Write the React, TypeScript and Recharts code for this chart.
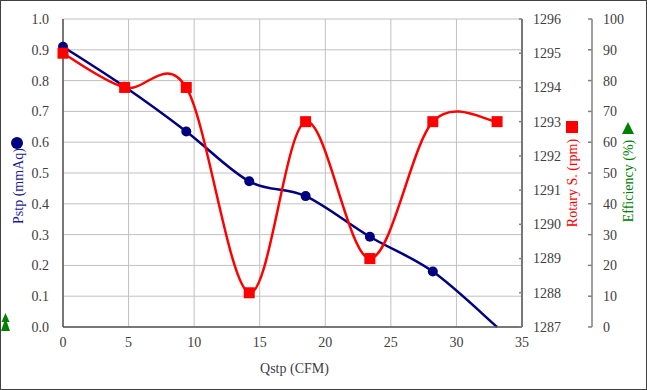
import React from "react";
import { LineChart, Line, XAxis, YAxis, CartesianGrid, Label } from "recharts";

const qstp = [0, 4.7, 9.4, 14.2, 18.5, 23.4, 28.2, 33.1];
const pstp = [0.91, 0.78, 0.635, 0.473, 0.425, 0.293, 0.18, 0.0];
const rpm = [1295, 1294, 1294, 1288, 1293, 1289, 1293, 1293];

const xTicks = [0, 5, 10, 15, 20, 25, 30, 35];
const pTicks = [0, 0.1, 0.2, 0.3, 0.4, 0.5, 0.6, 0.7, 0.8, 0.9, 1.0];
const rpmTicks = [1287, 1288, 1289, 1290, 1291, 1292, 1293, 1294, 1295, 1296];
const effTicks = [0, 10, 20, 30, 40, 50, 60, 70, 80, 90, 100];

const data = qstp.map((q, i) => ({ q, p: pstp[i], r: rpm[i] }));

const FONT = "Liberation Serif";
const TICK_COLOR = "#404040";
const NAVY = "#000080";
const RED = "#FF0000";
const GREEN = "#008000";

// Excel-like smoothing (uniform Catmull-Rom as cubic Bezier)
function excelSmooth(context: any) {
  let pts: number[][] = [];
  return {
    areaStart() {},
    areaEnd() {},
    lineStart() {
      pts = [];
    },
    lineEnd() {
      const n = pts.length;
      if (!n) return;
      context.moveTo(pts[0][0], pts[0][1]);
      for (let i = 0; i < n - 1; i++) {
        const p0 = pts[i - 1] || pts[i];
        const p1 = pts[i];
        const p2 = pts[i + 1];
        const p3 = pts[i + 2] || p2;
        context.bezierCurveTo(
          p1[0] + (p2[0] - p0[0]) / 6,
          p1[1] + (p2[1] - p0[1]) / 6,
          p2[0] - (p3[0] - p1[0]) / 6,
          p2[1] - (p3[1] - p1[1]) / 6,
          p2[0],
          p2[1]
        );
      }
    },
    point(x: number, y: number) {
      pts.push([+x, +y]);
    },
  };
}

const BlueDot = (props: any) => {
  const { cx, cy, index } = props;
  if (index === data.length - 1 || cx == null || cy == null) return <g key={`bd-${index}`} />;
  return <circle key={`bd-${index}`} cx={cx} cy={cy} r={5} fill={NAVY} stroke="none" />;
};

const RedDot = (props: any) => {
  const { cx, cy, index } = props;
  if (cx == null || cy == null) return <g key={`rd-${index}`} />;
  return <rect key={`rd-${index}`} x={cx - 5.5} y={cy - 5.5} width={11} height={11} fill={RED} stroke="none" />;
};

const txtStyle: React.CSSProperties = { fontFamily: FONT, fontSize: 14 };

const RightTick = (props: any) => {
  const { x, y, payload, inward } = props;
  return (
    <g>
      <line x1={x - 11 - inward} y1={y} x2={x - 11} y2={y} stroke="#808080" strokeWidth={1.5} />
      <text x={x} y={y} dy="0.35em" textAnchor="start" fill={TICK_COLOR} style={txtStyle}>
        {payload.value}
      </text>
    </g>
  );
};

const LeftTick = (props: any) => {
  const { x, y, payload } = props;
  return (
    <text x={x} y={y} dy="0.35em" textAnchor="end" fill={TICK_COLOR} style={txtStyle}>
      {Number(payload.value).toFixed(1)}
    </text>
  );
};

const BottomTick = (props: any) => {
  const { x, y, payload } = props;
  return (
    <text x={x} y={y} dy="0.85em" textAnchor="middle" fill={TICK_COLOR} style={txtStyle}>
      {payload.value}
    </text>
  );
};

const LeftTitle = (props: any) => {
  const vb = props.viewBox || { x: 0, y: 19, width: 63, height: 308 };
  const cy = vb.y + vb.height / 2 + 13;
  const bottom = vb.y + vb.height;
  return (
    <g>
      <circle cx={vb.x + 17} cy={cy - 43} r={6} fill={NAVY} />
      <text
        x={vb.x + 18}
        y={cy}
        transform={`rotate(-90 ${vb.x + 18} ${cy})`}
        textAnchor="middle"
        dominantBaseline="central"
        fill="#1a1a96"
        style={txtStyle}
      >
        Pstp (mmAq)
      </text>
      <polygon points={`${vb.x + 5.5},${bottom - 14} ${vb.x + 1.5},${bottom - 5} ${vb.x + 9.5},${bottom - 5}`} fill={GREEN} />
      <polygon points={`${vb.x + 5.5},${bottom - 9} ${vb.x + 1},${bottom + 4} ${vb.x + 10},${bottom + 4}`} fill={GREEN} />
    </g>
  );
};

const RpmTitle = (props: any) => {
  const vb = props.viewBox || { x: 522, y: 19, width: 70, height: 308 };
  const x = vb.x + 50;
  const cy = vb.y + vb.height / 2 + 10;
  return (
    <g>
      <rect x={x - 6} y={cy - 62} width={12} height={12} fill={RED} />
      <text
        x={x}
        y={cy}
        transform={`rotate(-90 ${x} ${cy})`}
        textAnchor="middle"
        dominantBaseline="central"
        fill={RED}
        style={txtStyle}
      >
        Rotary S. (rpm)
      </text>
    </g>
  );
};

const EffTitle = (props: any) => {
  const vb = props.viewBox || { x: 592, y: 19, width: 55, height: 308 };
  const x = vb.x + 36;
  const cy = vb.y + vb.height / 2 + 8;
  return (
    <g>
      <polygon points={`${x},${cy - 59} ${x - 6},${cy - 47} ${x + 6},${cy - 47}`} fill={GREEN} />
      <text
        x={x}
        y={cy}
        transform={`rotate(-90 ${x} ${cy})`}
        textAnchor="middle"
        dominantBaseline="central"
        fill={GREEN}
        style={txtStyle}
      >
        Efficiency (%)
      </text>
    </g>
  );
};

const XTitle = (props: any) => {
  const vb = props.viewBox || { x: 63, y: 327, width: 459, height: 63 };
  return (
    <text
      x={vb.x + vb.width / 2 + 2}
      y={vb.y + 41}
      textAnchor="middle"
      dominantBaseline="central"
      fill={TICK_COLOR}
      style={txtStyle}
    >
      Qstp (CFM)
    </text>
  );
};

export default function App() {
  return (
    <div style={{ position: "absolute", left: 0, top: 0, width: 647, height: 390, background: "#fff" }}>
      <LineChart width={647} height={390} data={data} margin={{ top: 19, right: 0, bottom: 0, left: 0 }}>
        <CartesianGrid yAxisId="p" stroke="#c0c0c0" strokeWidth={1} />
        <XAxis
          dataKey="q"
          type="number"
          domain={[0, 35]}
          ticks={xTicks}
          height={63}
          tickSize={0}
          tickMargin={8}
          axisLine={{ stroke: "#555", strokeWidth: 1.5 }}
          tick={<BottomTick />}
          interval={0}
        >
          <Label content={XTitle} />
        </XAxis>
        <YAxis
          yAxisId="p"
          orientation="left"
          domain={[0, 1]}
          ticks={pTicks}
          width={63}
          tickSize={0}
          tickMargin={14}
          interval={0}
          axisLine={{ stroke: "#555", strokeWidth: 1.5 }}
          tick={<LeftTick />}
        >
          <Label content={LeftTitle} />
        </YAxis>
        <YAxis
          yAxisId="r2"
          orientation="right"
          type="number"
          domain={[0, 100]}
          allowDataOverflow={true}
          ticks={effTicks}
          width={55}
          tickSize={0}
          tickMargin={11}
          interval={0}
          axisLine={{ stroke: "#808080", strokeWidth: 1.5 }}
          tickLine={false}
          tick={<RightTick inward={4} />}
        >
          <Label content={EffTitle} />
        </YAxis>
        <YAxis
          yAxisId="r1"
          orientation="right"
          type="number"
          domain={[1287, 1296]}
          allowDataOverflow={true}
          ticks={rpmTicks}
          width={70}
          tickSize={0}
          tickMargin={11}
          interval={0}
          axisLine={{ stroke: "#555", strokeWidth: 1.5 }}
          tickLine={false}
          tick={<RightTick inward={3} />}
        >
          <Label content={RpmTitle} />
        </YAxis>
        <Line
          yAxisId="r2"
          dataKey="eff"
          stroke="none"
          dot={false}
          activeDot={false}
          legendType="none"
          isAnimationActive={false}
        />
        <Line
          yAxisId="p"
          dataKey="p"
          type={excelSmooth as any}
          stroke={NAVY}
          strokeWidth={2.5}
          dot={BlueDot}
          activeDot={false}
          isAnimationActive={false}
        />
        <Line
          yAxisId="r1"
          dataKey="r"
          type={excelSmooth as any}
          stroke={RED}
          strokeWidth={2.5}
          dot={RedDot}
          activeDot={false}
          isAnimationActive={false}
        />
      </LineChart>
      <div
        style={{
          position: "absolute",
          left: 0,
          top: 0,
          width: 647,
          height: 390,
          border: "1.5px solid #404040",
          boxSizing: "border-box",
          pointerEvents: "none",
        }}
      />
    </div>
  );
}
